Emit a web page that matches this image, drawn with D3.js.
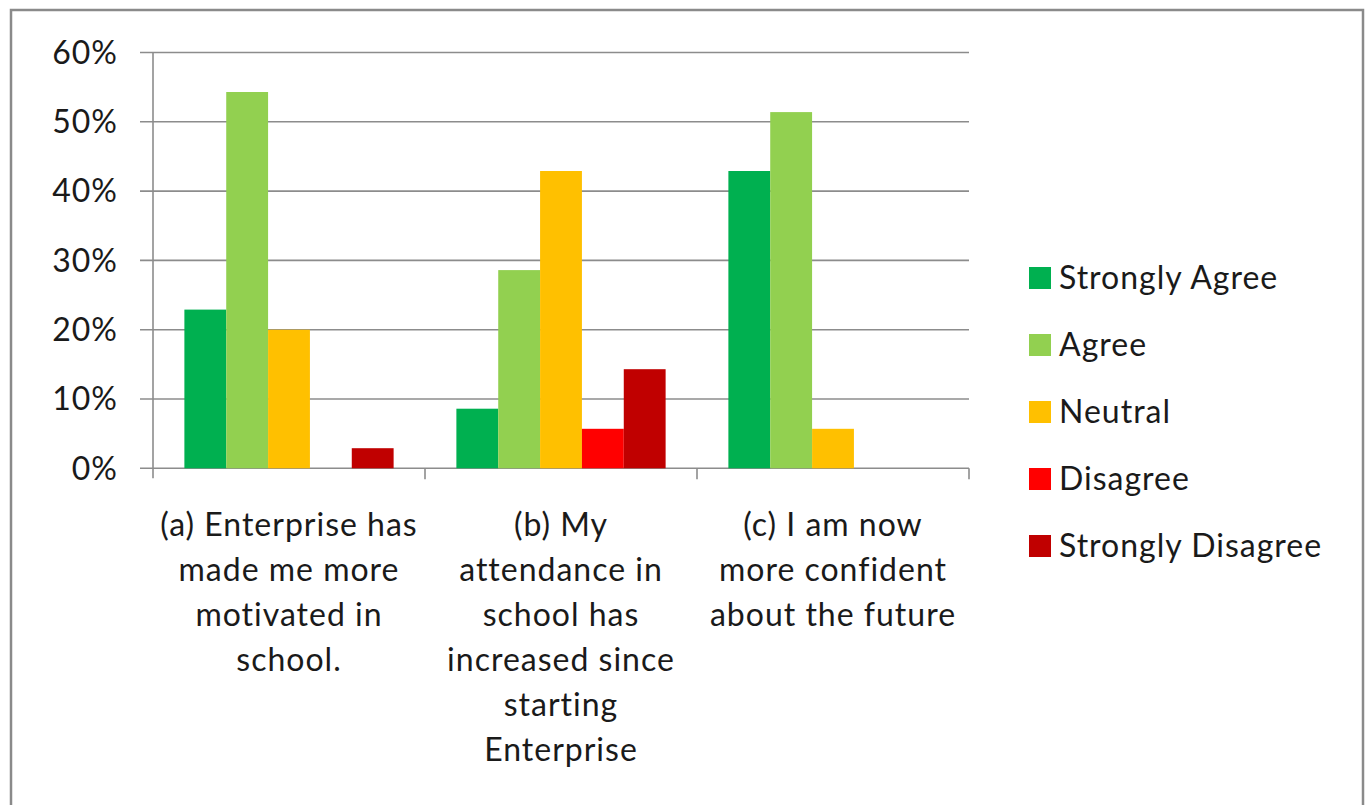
<!DOCTYPE html>
<html><head><meta charset="utf-8">
<script src="https://cdn.jsdelivr.net/npm/d3@7"></script>
<style>body{margin:0;background:#fff;} text{font-family:Lato,"Open Sans",sans-serif;fill:#1a1a1a;letter-spacing:1px;}</style>
</head><body>
<svg id="c" width="1365" height="805"></svg>
<script>
const categories = [
  ["(a) Enterprise has","made me more","motivated in","school."],
  ["(b) My","attendance in","school has","increased since","starting","Enterprise"],
  ["(c) I am now","more confident","about the future"]
];
const seriesNames = ["Strongly Agree","Agree","Neutral","Disagree","Strongly Disagree"];
const seriesColors = ["#00B050","#92D050","#FFC000","#FF0000","#C00000"];
const valuesA = [22.9, 54.3, 20.0, 0, 2.9];
const valuesB = [8.6, 28.6, 42.9, 5.7, 14.3];
const valuesC = [42.9, 51.4, 5.7, 0, 0];
const yTicks = [0,10,20,30,40,50,60];

(function(){
const FS = 32;
const allValues = [valuesA, valuesB, valuesC];
const svg = d3.select("#c");
svg.append("rect").attr("x",11).attr("y",10).attr("width",1352).attr("height",810)
  .attr("fill","#fff").attr("stroke","#8a8a8a").attr("stroke-width",2.5);

const pLeft=153, pRight=969, pTop=52.5, pBottom=468.3;
const x0 = d3.scaleBand().domain(d3.range(categories.length)).range([pLeft,pRight]).paddingInner(0).paddingOuter(0);
// gap width 150%: outer padding each side = 0.75 bar widths
const x1 = d3.scaleBand().domain(d3.range(seriesNames.length)).range([0,x0.bandwidth()]).paddingOuter(0.75).paddingInner(0);
const y = d3.scaleLinear().domain([0,60]).range([pBottom,pTop]);

const g = svg.append("g");
g.selectAll(".grid").data(yTicks).join("line")
  .attr("x1",140).attr("x2",pRight).attr("y1",d=>y(d)).attr("y2",d=>y(d))
  .attr("stroke","#8c8c8c").attr("stroke-width",1.6);
g.append("line").attr("x1",pLeft).attr("x2",pLeft).attr("y1",pTop).attr("y2",pBottom+10)
  .attr("stroke","#8c8c8c").attr("stroke-width",1.6);
g.selectAll(".ct").data(d3.range(1,categories.length+1)).join("line")
  .attr("x1",d=>pLeft+d*x0.bandwidth()).attr("x2",d=>pLeft+d*x0.bandwidth())
  .attr("y1",pBottom).attr("y2",pBottom+11).attr("stroke","#8c8c8c").attr("stroke-width",1.6);
g.selectAll(".yl").data(yTicks).join("text")
  .attr("x",118).attr("y",d=>y(d)).attr("dy","0.35em").attr("text-anchor","end")
  .attr("font-size",FS).text(d=>d+"%");
categories.forEach((c,ci)=>{
  g.selectAll(".b"+ci).data(allValues[ci]).join("rect")
    .attr("x",(d,i)=>x0(ci)+x1(i)).attr("width",x1.bandwidth())
    .attr("y",d=>y(d)).attr("height",d=>pBottom-y(d))
    .attr("fill",(d,i)=>seriesColors[i]);
  const t = g.append("text").attr("text-anchor","middle").attr("font-size",FS);
  c.forEach((line,li)=>{
    t.append("tspan").attr("x",x0(ci)+x0.bandwidth()/2).attr("y",536+li*45).text(line);
  });
});
const lg = svg.append("g");
seriesNames.forEach((n,i)=>{
  const cy = 278 + i*67;
  lg.append("rect").attr("x",1029).attr("y",cy-11).attr("width",22).attr("height",22).attr("fill",seriesColors[i]);
  lg.append("text").attr("x",1059).attr("y",cy).attr("dy","0.35em").attr("font-size",FS).text(n);
});
})();
</script>
</body></html>
